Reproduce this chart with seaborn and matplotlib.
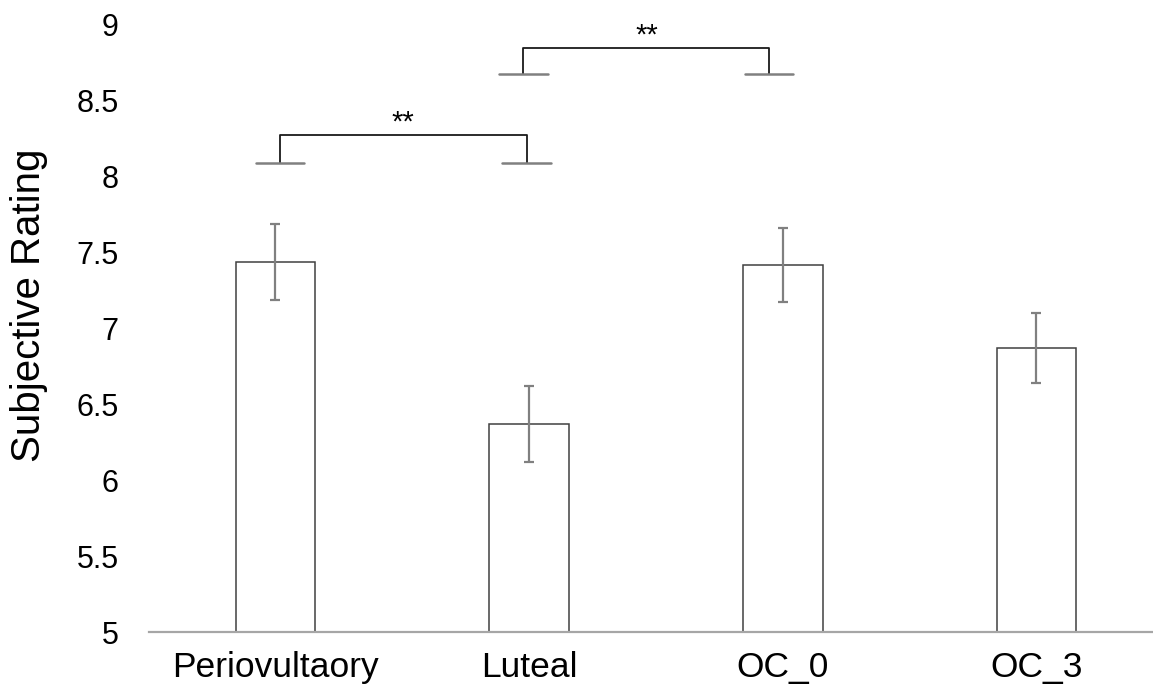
import matplotlib
matplotlib.use("Agg")
import matplotlib.pyplot as plt
import seaborn as sns
import pandas as pd

# Mean subjective rating per phase, with standard errors
phases = ["Periovultaory", "Luteal", "OC_0", "OC_3"]
means = [7.44, 6.37, 7.42, 6.87]
sems = [0.25, 0.25, 0.245, 0.232]

# Pairwise comparisons: (left index, right index, label)
comparisons = [(0, 1, "**"), (1, 2, "**")]
bracket_tops = [8.275, 8.85]
bracket_feet = [8.09, 8.675]

sns.set_theme(style="white")
plt.rcParams["font.family"] = ["Liberation Sans", "DejaVu Sans"]

df = pd.DataFrame({"phase": phases, "rating": means})

fig = plt.figure(figsize=(11.53, 6.95), dpi=100)
W, H = 1153, 695
ax = fig.add_axes([148.5 / W, 63 / H, 1014.8 / W, 607 / H])

sns.barplot(data=df, x="phase", y="rating", order=phases, width=0.314,
            color="white", edgecolor="#404040", linewidth=1.1,
            errorbar=None, ax=ax)
ax.errorbar(range(len(phases)), means, yerr=sems, fmt="none",
            ecolor="#808080", elinewidth=1.6, capsize=3.6, capthick=1.6,
            zorder=3)

ax.set_xlim(-0.5, 3.5)
ax.set_ylim(5, 9)
ax.set_yticks([5, 5.5, 6, 6.5, 7, 7.5, 8, 8.5, 9])
ax.set_yticklabels(["5", "5.5", "6", "6.5", "7", "7.5", "8", "8.5", "9"])
ax.tick_params(axis="y", length=0, pad=21.5, labelsize=22, labelcolor="black")
ax.tick_params(axis="x", length=0, pad=14, labelsize=25.5, labelcolor="black")
ax.set_xlabel("")
ax.set_ylabel("")

for side in ["top", "right", "left"]:
    ax.spines[side].set_visible(False)
ax.spines["bottom"].set_color("#a6a6a6")
ax.spines["bottom"].set_linewidth(1.6)

fig.text(29 / W, 1 - 305 / H, "Subjective Rating", rotation=90,
         ha="center", va="center", fontsize=29, color="black")

# significance brackets; legs sit slightly off the bar centres
leg_offsets = [(0.019, -0.010), (-0.022, -0.053)]
for (i, j, lab), top, foot, (dl, dr) in zip(comparisons, bracket_tops,
                                             bracket_feet, leg_offsets):
    xl, xr = i + dl, j + dr
    ax.plot([xl, xl, xr, xr], [foot, top, top, foot], color="#1a1a1a",
            lw=1.3, solid_capstyle="butt", clip_on=False)
    for xc in (xl, xr):
        ax.plot([xc - 0.095, xc + 0.095], [foot, foot], color="#808080",
                lw=1.8, clip_on=False)
    ax.text((xl + xr) / 2, top - 0.01, lab, ha="center", va="bottom",
            fontsize=21, color="black")

fig.savefig("out.png", dpi=100)
